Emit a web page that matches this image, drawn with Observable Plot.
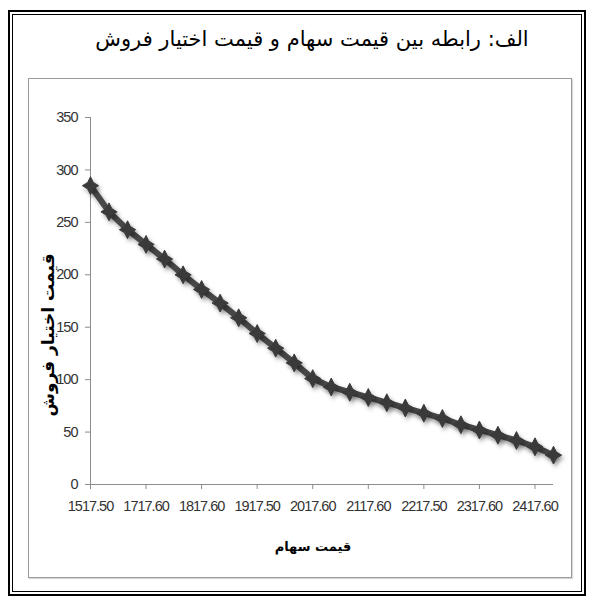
<!DOCTYPE html>
<html>
<head>
<meta charset="utf-8">
<script src="https://cdn.jsdelivr.net/npm/d3@7"></script>
<script src="https://cdn.jsdelivr.net/npm/@observablehq/plot@0.6"></script>
<style>
  html, body { margin: 0; padding: 0; background: #fff; }
  #page { position: relative; width: 594px; height: 601px; overflow: hidden; background: #fff; }
  .frame-outer { position: absolute; left: 8px; top: 10px; width: 578px; height: 586px; box-sizing: border-box; border: 2px solid #000; }
  .frame-inner { position: absolute; left: 12px; top: 14px; width: 570px; height: 578px; box-sizing: border-box; border: 1px solid #000; }
  .title { position: absolute; left: 30px; top: 24px; width: 564px; text-align: center; direction: rtl;
           font-family: "DejaVu Sans", sans-serif; font-size: 21px; line-height: 30px; color: #000; }
  .chartbox { position: absolute; left: 28px; top: 78px; width: 544px; height: 500px; box-sizing: border-box;
              border: 1px solid #9a9a9a; box-shadow: 1px 1px 1px rgba(0,0,0,0.15); }
  #chart { position: absolute; left: 28px; top: 78px; }
  #chart svg g[aria-label^="x-axis"] line, #chart svg g[aria-label^="x-axis"] path,
  #chart svg g[aria-label^="y-axis"] line, #chart svg g[aria-label^="y-axis"] path { stroke: #8c8c8c; }
  #chart svg g[aria-label^="x-axis"] text, #chart svg g[aria-label^="y-axis"] text { letter-spacing: -1px; }
  #chart svg g[aria-label="line"], #chart svg g[aria-label="dot"] { filter: drop-shadow(2px 3px 2px rgba(0,0,0,0.35)); }
</style>
</head>
<body>
<div id="page">
  <div class="frame-outer"></div>
  <div class="frame-inner"></div>
  <div class="title">الف: رابطه بین قیمت سهام و قیمت اختیار فروش</div>
  <div class="chartbox"></div>
  <div id="chart"></div>
</div>
<script>
// Put option price for each stock-price category (26 categories)
const putPrices = [285, 260, 243, 229, 215, 200, 186, 173, 159, 144, 130, 116, 101,
                   93, 88, 83, 78, 73, 68, 63, 57, 52, 47, 42, 36, 28];
// Labelled categories (every third category is labelled)
const tickIndex = [0, 3, 6, 9, 12, 15, 18, 21, 24];
const tickLabels = ["1517.50", "1717.60", "1817.60", "1917.50", "2017.60", "2117.60", "2217.50", "2317.60", "2417.60"];
const yTicks = [0, 50, 100, 150, 200, 250, 300, 350];
const xTitle = "قیمت سهام";
const yTitle = "قیمت اختیار فروش";

const star4 = {
  draw(ctx, size) {
    const R = Math.sqrt(size / Math.PI) * 1.25;
    const r = R * 0.5;
    for (let k = 0; k < 8; k++) {
      const a = -Math.PI / 2 + k * Math.PI / 4;
      const rad = k % 2 === 0 ? R : r;
      const px = Math.cos(a) * rad, py = Math.sin(a) * rad * 1.1;
      if (k === 0) ctx.moveTo(px, py); else ctx.lineTo(px, py);
    }
    ctx.closePath();
  }
};

const chart = Plot.plot({
  width: 544,
  height: 500,
  marginLeft: 62,
  marginRight: 19,
  marginTop: 39,
  marginBottom: 94,
  style: {
    fontFamily: "'Liberation Sans', sans-serif",
    fontSize: "14.5px",
    color: "#333",
    background: "transparent",
    overflow: "visible"
  },
  x: {
    domain: [0, putPrices.length - 1],
    ticks: tickIndex,
    tickFormat: d => tickLabels[tickIndex.indexOf(d)],
    tickSize: 5,
    tickPadding: 11,
    label: null
  },
  y: {
    domain: [0, 350],
    ticks: yTicks,
    tickSize: 5,
    tickPadding: 8,
    label: null
  },
  marks: [
    Plot.ruleX([0], {stroke: "#8c8c8c"}),
    Plot.ruleY([0], {stroke: "#8c8c8c"}),
    Plot.line(putPrices, {x: (d, i) => i, y: d => d, stroke: "#474747", strokeWidth: 6}),
    Plot.dot(putPrices, {x: (d, i) => i, y: d => d, symbol: star4, r: 6.5, fill: "#3a3a3a", stroke: "#3a3a3a", strokeWidth: 1}),
    Plot.text([xTitle], {text: d => d, frameAnchor: "bottom", textAnchor: "middle", dx: -9, dy: 66,
      fontFamily: "'DejaVu Sans', sans-serif", fontSize: 13, fontWeight: "bold", fill: "#000"}),
    Plot.text([yTitle], {text: d => d, frameAnchor: "left", textAnchor: "middle", rotate: -90, dx: -42, dy: 34,
      fontFamily: "'DejaVu Sans', sans-serif", fontSize: 17, fontWeight: "bold", fill: "#000"})
  ]
});
document.getElementById("chart").appendChild(chart);
</script>
</body>
</html>
